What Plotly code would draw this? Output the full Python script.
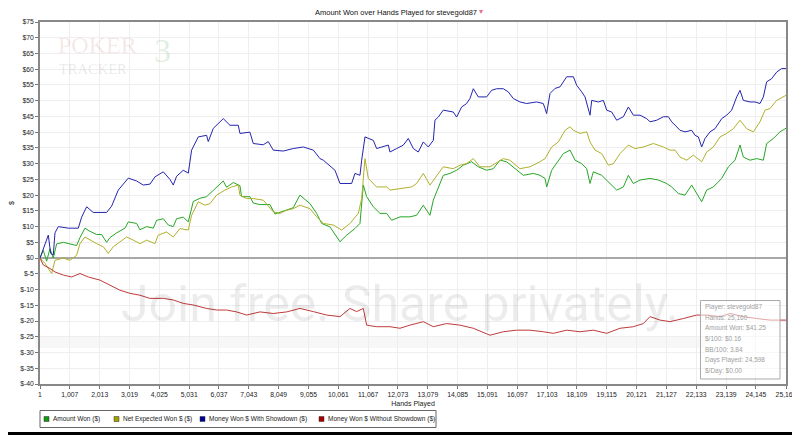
import plotly.graph_objects as go

# values (hands played -> $)
hands_won = [1, 112, 225, 337, 450, 562, 787, 1012, 1236, 1349, 1517, 1686, 1911, 2079, 2248,
             2360, 2585, 2866, 2979, 3260, 3372, 3597, 3822, 3934, 4159, 4328, 4496, 4608, 4833,
             5002, 5170, 5395, 5620, 5845, 6182, 6294, 6519, 6744, 6800, 7081, 7194, 7419, 7756,
             7924, 8205, 8542, 8769, 9106, 9331, 9500, 9781, 10118, 10343, 10624, 10792, 10905,
             11017, 11242, 11467, 11692, 11860, 12142, 12478, 12703, 12928, 13153, 13265, 13434,
             13602, 13827, 14052, 14277, 14558, 14782, 15063, 15288, 15513, 15738, 15962, 16300,
             16637, 16865, 17034, 17090, 17258, 17483, 17652, 17877, 18045, 18270, 18439, 18551,
             18663, 18944, 19113, 19282, 19450, 19675, 19844, 20012, 20237, 20574, 20855, 21136,
             21305, 21530, 21754, 21979, 22148, 22317, 22485, 22710, 22991, 23216, 23441, 23609,
             23721, 23946, 24171, 24396, 24508, 24733, 24958, 25160]
amount_won = [0, 2.5, -1, 3, 0, 4.5, 5, 4.5, 4, 6.5, 9.5, 8.5, 7.5, 7.5, 5,
              6.5, 8, 9.5, 11.5, 11, 9, 10, 9.5, 12, 12.5, 10.5, 10, 12.5, 13,
              11.5, 18, 19, 19.5, 21.5, 24.5, 22.5, 24, 23, 19.5, 19.5, 17.5, 17, 17,
              14, 15, 16, 20, 17.3, 14.2, 11, 9.9, 5.2, 7.3, 9.4, 11, 23.2,
              19.5, 16.3, 14.2, 14.2, 12, 13.1, 13.1, 13.6, 16.8, 13.6, 18.4, 22.6,
              26.3, 26.9, 27.9, 29.5, 30.6, 29, 27.9, 28.4, 31.1, 30.6, 29, 26.3,
              26.9, 26.3, 25.3, 22.6, 27.9, 31.1, 33.2, 34.3, 31.1, 30, 28.4, 23.7,
              27.4, 26.3, 24.8, 23.2, 21.6, 22.6, 26.3, 23.7, 24.8, 25.3, 24.8, 23.7,
              22.6, 20.5, 20, 23.2, 20.5, 17.9, 21.6, 22.6, 25.3, 29, 31.1, 35.9,
              32.1, 31.1, 31.6, 31.1, 36.4, 38, 40.1, 41.25]

hands_ev = [1, 169, 393, 506, 787, 1012, 1236, 1349, 1517, 1686, 1911, 2136, 2304, 2473, 2698,
            2922, 3147, 3372, 3597, 3878, 3990, 4271, 4496, 4721, 5002, 5114, 5339, 5564, 5732,
            5957, 6238, 6463, 6688, 6744, 6969, 7194, 7531, 7868, 8093, 8318, 8542, 8769, 9106,
            9331, 9556, 9893, 10174, 10455, 10736, 10849, 10961, 11074, 11354, 11692, 11804,
            12142, 12535, 12703, 12928, 13153, 13378, 13602, 13939, 14164, 14389, 14614, 14839,
            15176, 15625, 15850, 16187, 16524, 16862, 17034, 17258, 17483, 17708, 17877, 17989,
            18214, 18439, 18551, 18720, 18944, 19169, 19338, 19563, 19844, 20068, 20349, 20687,
            21024, 21249, 21417, 21586, 21811, 22036, 22317, 22485, 22710, 22935, 23160, 23385,
            23609, 23834, 24059, 24284, 24452, 24621, 24846, 25160]
net_expected_won = [0, -1.7, -4.9, -0.7, 0, -0.7, 0.9, 4.6, 6.7, 5.7, 4.6, 3.6, 1.5, 3.6, 5.2,
                    6.7, 5.7, 4.6, 5.7, 4.6, 7.3, 8.3, 6.7, 9.4, 8.9, 13.6, 17.9, 16.8, 17.3,
                    20, 21.6, 22.6, 23.2, 20, 18.9, 18.9, 18.4, 14.7, 14.2, 15.2, 15.7, 16.8, 15.7,
                    13.1, 11, 10.5, 8.9, 11, 14.2, 18.9, 31.6, 25.3, 22.6, 22.6, 21.6,
                    22.1, 22.6, 23.7, 26.9, 23.2, 26.3, 29, 28.4, 29.5, 30, 31.6, 29,
                    29, 31.6, 31.1, 28.4, 29, 30.6, 31.6, 35.3, 36.9, 40.6, 41.7, 40.6,
                    39.6, 40.1, 36.9, 34.3, 33.2, 29.5, 30, 33.2, 35.9, 34.8, 35.3, 36.4,
                    35.3, 34.3, 34.3, 32.1, 31.1, 32.7, 30.6, 33.7, 35.3, 38.5, 39.6, 41.1,
                    43.8, 41.1, 40.1, 43.3, 47, 47.5, 50.1, 51.7]

hands_sd = [1, 112, 281, 360, 450, 506, 618, 955, 1293, 1405, 1574, 1798, 2248, 2417, 2641,
            2979, 3260, 3484, 3709, 3878, 4159, 4384, 4496, 4608, 4833, 5002, 5114, 5339, 5620,
            5676, 5845, 6182, 6407, 6688, 6744, 7081, 7194, 7531, 7699, 7868, 8205, 8542, 8882,
            9219, 9444, 9556, 9949, 10118, 10511, 10624, 10792, 10849, 10961, 11242, 11354, 11748,
            11804, 12029, 12254, 12422, 12591, 12759, 12928, 13097, 13265, 13321, 13434, 13602,
            13939, 14052, 14220, 14389, 14501, 14614, 14782, 15063, 15232, 15401, 15625, 15794,
            15962, 16187, 16412, 16749, 16974, 17034, 17087, 17202, 17371, 17539, 17764, 17989,
            18101, 18270, 18382, 18551, 18607, 18832, 19001, 19113, 19282, 19450, 19675, 19844,
            20012, 20237, 20462, 20574, 20799, 21024, 21192, 21305, 21473, 21586, 21754, 21979,
            22092, 22204, 22317, 22429, 22598, 22766, 22991, 23160, 23328, 23497, 23609, 23721,
            23946, 24115, 24284, 24396, 24508, 24677, 24846, 25014, 25160]
won_with_showdown = [0, 3, 7.3, 1.5, 1, 8, 10, 9.5, 9.5, 13, 16.3, 14.5, 14.5, 16.5, 21.6,
                     25.4, 24.5, 23.2, 23.5, 25.8, 27.4, 25, 23.2, 26, 27.9, 27, 34.3, 38.5, 39,
                     37, 41.2, 44.3, 42.2, 42.2, 39.6, 40, 36.4, 36, 37, 34.3, 34, 34.8, 35.3,
                     34.3, 31.6, 31.1, 27.9, 23.7, 23.7, 26.9, 26.3, 31.1, 38.5, 37.4, 34.8, 35.9,
                     33.7, 34.8, 35.9, 38, 34.8, 33.7, 36.9, 35.3, 37.4, 43.8, 44.8, 47,
                     46.4, 44.8, 48, 49.1, 50.7, 53.8, 51.2, 51.2, 53.3, 53.8, 53.8, 52.8,
                     50.7, 49.6, 49.1, 49.6, 49.1, 47.5, 45.9, 52.3, 53.9, 54.4, 57.6, 57.6,
                     54.9, 52.8, 51.2, 45.4, 50.1, 49.6, 50.1, 47, 46.4, 43.8, 44.9, 48,
                     45.4, 45.4, 44.3, 43.3, 43.8, 44.9, 44.9, 43.3, 41.7, 40.6, 40.1, 40.6,
                     39, 38.5, 35.3, 38, 40.1, 41.1, 44.3, 45.4, 47, 51.2, 53.3, 50.1,
                     49.6, 49.6, 49.1, 51.2, 56, 57, 59.1, 60.2, 60.2]

hands_nsd = [1, 112, 337, 506, 787, 1068, 1349, 1630, 2023, 2360, 2698, 3035, 3372, 3709, 4159,
             4496, 4833, 5170, 5620, 5957, 6294, 6632, 6969, 7419, 7868, 8318, 8769, 9219, 9668,
             10118, 10455, 10680, 10905, 11017, 11354, 11804, 12142, 12478, 12928, 13265, 13715,
             14164, 14614, 15176, 15625, 16074, 16524, 16974, 17315, 17764, 18214, 18663, 19113,
             19563, 20012, 20349, 20574, 20912, 21249, 21698, 22148, 22485, 22935, 23272, 23721,
             24171, 24621, 25160]
won_without_showdown = [0, -2.2, -3.3, -4.4, -5.4, -6, -4.9, -6, -7, -8.6, -10.2, -11.2, -11.8,
                        -12.8, -12.8, -13.3, -14.4, -14.9, -16, -16.5, -16.5, -17.1, -18.1,
                        -17.1, -17.6, -17.1, -16, -17, -18.1, -18.6, -16, -17, -16, -21.3,
                        -21.8, -21.8, -22.3, -21.3, -20.2, -21.8, -20.8, -21.3, -22.3, -24.5,
                        -23.4, -22.9, -22.9, -23.4, -23.9, -22.9, -23.4, -22.9, -23.9, -22.3,
                        -21.8, -20.8, -18.6, -19.7, -20.2, -19.2, -18.1, -18.1, -18.6, -17.6,
                        -18.6, -19.2, -19.7, -19.7]

series_names = ["Amount Won ($)", "Net Expected Won $ ($)",
                "Money Won $ With Showdown ($)", "Money Won $ Without Showdown ($)"]
line_colors = ["#26a626", "#b0b02a", "#2424b0", "#c03a3a"]
legend_colors = ["#119911", "#a0a000", "#000099", "#aa0000"]

x_ticks = [1, 1007, 2013, 3019, 4025, 5031, 6037, 7043, 8049, 9055, 10061, 11067, 12073,
           13079, 14085, 15091, 16097, 17103, 18109, 19115, 20121, 21127, 22133, 23139,
           24145, 25160]
y_ticks = [75, 70, 65, 60, 55, 50, 45, 40, 35, 30, 25, 20, 15, 10, 5, 0,
           -5, -10, -15, -20, -25, -30, -35, -40]

stats_lines = ["Player: stevegold87", "Hands: 25,160", "Amount Won: $41.25", "$/100: $0.16",
               "BB/100: 3.84", "Days Played: 24,598", "$/Day: $0.00"]

# the page body adds 8px, so the figure is drawn 8px smaller and shifted
PAD = 8
FIG_W, FIG_H = 800 - PAD, 435 - PAD
# plot box in screenshot pixels
L, T, W, H = 40, 22, 746, 362


def px(x):
    return (x - L) / W


def py(y):
    return (T + H - y) / H


FONT = "Liberation Sans"

fig = go.Figure()
xs = [hands_won, hands_ev, hands_sd, hands_nsd]
ys = [amount_won, net_expected_won, won_with_showdown, won_without_showdown]
for x, y, name, c in zip(xs, ys, series_names, line_colors):
    fig.add_trace(go.Scatter(x=x, y=y, name=name, mode="lines",
                             line=dict(color=c, width=1), showlegend=False))

shapes = []
annotations = []

# title
annotations.append(dict(text="Amount Won over Hands Played for stevegold87", xref="paper", yref="paper",
                        x=px(396), y=py(13), showarrow=False, xanchor="center", yanchor="middle",
                        font=dict(family=FONT, size=7.5, color="#111")))
annotations.append(dict(text="▾", xref="paper", yref="paper", x=px(477), y=py(12), showarrow=False,
                        xanchor="left", yanchor="middle", font=dict(size=8, color="#e87090")))

# watermarks
annotations.append(dict(text="Join free. Share privately.", xref="paper", yref="paper",
                        x=px(400), y=py(304), showarrow=False, xanchor="center", yanchor="middle",
                        font=dict(family="Roboto", size=50, color="rgba(0,0,0,0.075)")))
annotations.append(dict(text="POKER", xref="paper", yref="paper", x=px(56), y=py(45), showarrow=False,
                        xanchor="left", yanchor="middle",
                        font=dict(family="Liberation Serif", size=24, color="rgba(190,70,70,0.13)")))
annotations.append(dict(text="TRACKER", xref="paper", yref="paper", x=px(57), y=py(69), showarrow=False,
                        xanchor="left", yanchor="middle",
                        font=dict(family="Liberation Serif", size=14.5, color="rgba(90,110,90,0.15)")))
annotations.append(dict(text="3", xref="paper", yref="paper", x=px(152), y=py(50), showarrow=False,
                        xanchor="left", yanchor="middle",
                        font=dict(family="Liberation Serif", size=34, color="rgba(60,150,60,0.16)")))
shapes.append(dict(type="rect", xref="paper", yref="paper", x0=px(35), x1=px(705), y0=py(348), y1=py(337),
                   fillcolor="rgba(0,0,0,0.03)", line=dict(width=0), layer="below"))

# stats box
shapes.append(dict(type="rect", xref="paper", yref="paper", x0=px(700.5), x1=px(780), y0=py(379), y1=py(300.5),
                   fillcolor="rgba(255,255,255,0.55)", line=dict(color="#aaaaaa", width=1)))
for i, s in enumerate(stats_lines):
    annotations.append(dict(text=s, xref="paper", yref="paper", x=px(703), y=py(306.5 + i * 10.7),
                            showarrow=False, xanchor="left", yanchor="middle",
                            font=dict(family=FONT, size=6.5, color="#a0a0a0")))

# legend drawn by hand, squares like the original
shapes.append(dict(type="rect", xref="paper", yref="paper", x0=px(40), x1=px(436), y0=py(427.5), y1=py(410.5),
                   fillcolor="white", line=dict(color="#666666", width=1)))
sq_x = [44, 114, 200, 319]
for x0, name, c in zip(sq_x, series_names, legend_colors):
    shapes.append(dict(type="rect", xref="paper", yref="paper", x0=px(x0), x1=px(x0 + 5),
                       y0=py(421.5), y1=py(416.5), fillcolor=c, line=dict(color="#333", width=0.5)))
    annotations.append(dict(text=name, xref="paper", yref="paper", x=px(x0 + 7), y=py(419),
                            showarrow=False, xanchor="left", yanchor="middle",
                            font=dict(family=FONT, size=6.5, color="#222")))

# screenshot frame on the right and bottom
shapes.append(dict(type="rect", xref="paper", yref="paper", x0=px(0), x1=px(800), y0=py(435), y1=py(432),
                   fillcolor="black", line=dict(width=0)))
shapes.append(dict(type="rect", xref="paper", yref="paper", x0=px(797), x1=px(800), y0=py(435), y1=py(0),
                   fillcolor="black", line=dict(width=0)))

fig.update_layout(
    width=FIG_W, height=FIG_H,
    margin=dict(l=L - PAD, r=800 - L - W, t=T - PAD, b=435 - T - H),
    paper_bgcolor="white", plot_bgcolor="white",
    font=dict(family=FONT, size=7, color="#222"),
    shapes=shapes, annotations=annotations,
    showlegend=False,
)
fig.update_xaxes(range=[1, 25160], tickvals=x_ticks, ticktext=[f"{v:,}" for v in x_ticks],
                 automargin=False,
                 showgrid=True, gridcolor="#eeeeee", showline=True, linecolor="#888888", linewidth=1.5,
                 mirror=True, ticks="outside", ticklen=3, tickcolor="#777", zeroline=False,
                 title=dict(text="Hands Played", font=dict(size=7), standoff=4),
                 tickfont=dict(size=6.8))
fig.update_yaxes(range=[-40, 75], tickvals=y_ticks, ticktext=[f"${v}" for v in y_ticks],
                 automargin=False,
                 showgrid=True, gridcolor="#eeeeee", showline=True, linecolor="#888888", linewidth=1.5,
                 mirror=True, ticks="outside", ticklen=3, tickcolor="#777",
                 zeroline=True, zerolinecolor="#a8a8a8", zerolinewidth=2,
                 title=dict(text="$", font=dict(size=7), standoff=8),
                 tickfont=dict(size=6.8))

fig.write_html("out.html")
